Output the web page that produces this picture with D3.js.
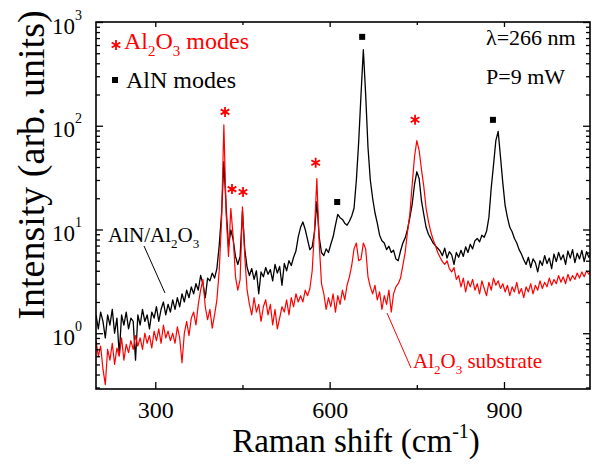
<!DOCTYPE html>
<html><head><meta charset="utf-8">
<script src="https://cdn.jsdelivr.net/npm/d3@7"></script>
<style>
body{margin:0;background:#fff}
svg{display:block}
</style>
</head><body>
<svg id="chart" width="592" height="464"></svg>
<script>
// Raman shift grid (cm^-1): 198 ... 1050, step 4
const shiftStart = 198, shiftStep = 4, shiftEnd = 1050;
const ramanShift = d3.range(shiftStart, shiftEnd + 1, shiftStep);

// AlN/Al2O3 spectrum (black)
const alnOnSapphire = [
  1.5,1.1,1.6,1.3,0.9,1.5,1.2,1.7,1.0,1.4,
  0.62,1.5,1.2,1.6,1.1,1.4,1.3,0.55,1.5,1.2,
  1.7,1.3,1.5,1.1,1.6,1.4,1.8,1.3,1.7,2.0,
  1.5,1.9,1.6,
  2.1,1.7,2.2,1.8,2.4,2.0,2.6,2.2,2.8,2.4,
  3.0,2.6,3.6,3.0,2.2,3.4,3.2,3.8,3.4,4.2,
  7.0,14,45,16,6.8,9.9,8.0,5.5,4.6,5.5,15,6.4,4.3,
  3.6,4.2,3.3,4.0,2.4,3.9,3.5,4.3,3.7,4.1,
  3.2,4.6,3.8,4.4,2.9,4.7,4.0,5.0,4.5,5.4,
  6.2,
  8.5,10.5,11.8,10,8.0,6.4,6.8,9.5,18.5,8.5,
  6.0,5.6,6.5,6.0,7.2,8.5,
  11,14,13,12.5,11.5,11,12,13.5,16,30,
  70,200,540,200,62,30,20,14.5,11.5,8.8,
  7.8,7.4,6.4,6.9,6.0,6.3,5.2,5.0,6.2,7.4,
  8.3,10,13,17.5,27,36,31,19,14,10.5,
  9,8.2,7.4,7.0,6.6,
  6.2,5.6,6.6,5.3,6.1,5.7,4.6,6.0,5.4,6.3,5.5,6.8,6.0,7.2,6.5,7.8,
  8.2,7.6,8.8,8.4,9.6,13,25,42,72,88,
  50,28,17,13,10.5,9.5,8.2,7.4,6.4,5.8,
  5.1,
  4.6,5.4,4.3,5.2,4.8,3.9,5.0,4.5,5.6,4.7,
  5.3,4.2,5.8,4.9,6.0,5.1,5.7,4.6,6.2,5.3,
  6.4,4.8,5.9,5.2,6.3,4.9,6.1,5.4,6.0
];

// Al2O3 substrate spectrum (red)
const sapphire = [
  0.85,0.6,0.75,0.45,0.32,0.7,0.55,0.8,0.5,0.72,
  0.6,0.9,0.55,0.78,0.65,0.85,0.7,0.95,0.75,0.9,
  0.7,1.0,0.8,0.95,0.72,1.05,0.85,1.1,0.8,1.2,
  0.9,1.05,0.85,
  1.0,0.8,1.15,0.9,0.52,1.0,1.3,0.95,1.4,1.6,
  1.2,1.9,2.6,3.3,1.8,1.35,1.7,1.12,1.5,2.1,
  4.0,12,102,14,5.5,16,8.5,3.5,2.6,3.3,16.5,5.5,2.6,
  1.9,1.5,2.2,1.6,1.9,1.3,1.8,2.1,1.5,1.9,
  1.2,1.7,1.1,1.4,1.8,1.6,2.1,1.5,2.2,1.8,
  2.4,
  2.0,2.3,2.0,2.6,2.3,2.7,4.0,10,31,7.5,
  3.0,2.4,1.7,2.2,1.8,2.4,
  1.6,2.3,1.9,2.6,2.1,2.9,3.5,4.5,6.5,7.4,
  5.0,5.2,7.4,6.5,3.5,2.8,2.4,2.9,2.1,2.5,
  1.7,2.3,1.9,2.6,1.6,2.4,2.8,3.0,3.4,4.5,
  6.0,9.5,14,27,50,72,58,38,26,16,
  12,9.5,8.0,7.0,6.0,
  5.4,4.9,4.6,5.0,4.2,3.9,4.3,3.3,3.6,2.8,3.4,2.5,3.2,2.8,3.3,2.6,
  3.0,2.4,3.2,2.7,2.3,3.1,2.6,3.4,2.9,3.2,2.7,3.0,2.5,2.9,2.3,2.8,2.5,3.1,2.4,2.7,2.2,
  2.8,2.5,3.0,2.4,2.9,2.6,3.2,2.7,3.1,2.8,3.4,2.9,3.3,3.0,3.6,3.1,3.5,3.0,3.7,3.2,
  3.6,3.3,3.8,3.4,3.9,3.5,4.0,3.7,4.1
];

// mode markers: [shift, intensity]
const sapphireModeShift = [420, 432, 451, 576, 747];
const sapphireModeLevel = [136, 24.5, 23, 44, 114];
const alnModeShift = [613, 656, 881];
const alnModeLevel = [18.4, 719, 114];

const xMajorTicks = [300, 600, 900];
const xMinorTicks = [450, 750];
const yMajorTicks = [1, 10, 100, 1000];
const yExponents = ["0", "1", "2", "3"];

const FONT = '"Liberation Serif"';
const svg = d3.select("#chart");
const L = 96, R = 590, T = 22, B = 389;
const x = d3.scaleLinear().domain([198, 1048]).range([L, R]);
const y = d3.scaleLog().domain([0.29, 1000]).range([B, T]);

const yMinorTicks = [];
[0.1, 1, 10, 100].forEach(d => { for (let k = 2; k <= 9; k++) { const v = d * k; if (v >= 0.29 && v <= 1000) yMinorTicks.push(v); } });

svg.append("defs").append("clipPath").attr("id", "clip")
  .append("rect").attr("x", L).attr("y", T).attr("width", R - L).attr("height", B - T);

const line = d3.line().x((d, i) => x(ramanShift[i])).y(d => y(d));
const plot = svg.append("g").attr("clip-path", "url(#clip)");
plot.append("path").datum(alnOnSapphire).attr("d", line)
  .attr("fill", "none").attr("stroke", "#000").attr("stroke-width", 1.3).attr("stroke-linejoin", "round");
plot.append("path").datum(sapphire).attr("d", line)
  .attr("fill", "none").attr("stroke", "#ff0000").attr("stroke-width", 1.2).attr("stroke-linejoin", "round");

// axes
function styleAxis(g) {
  g.attr("font-family", null);
  g.select(".domain").remove();
  g.selectAll("line").attr("stroke", "#000").attr("stroke-width", 1.3);
  g.selectAll("text").style("font-family", FONT);
}
svg.append("g").attr("transform", `translate(0,${B})`)
  .call(d3.axisBottom(x).tickValues(xMajorTicks).tickSizeInner(-7).tickSizeOuter(0).tickPadding(12).tickFormat(d3.format("d")))
  .call(styleAxis)
  .call(g => g.selectAll("text").attr("font-size", 24).attr("fill", "#000"));
svg.append("g").attr("transform", `translate(0,${B})`)
  .call(d3.axisBottom(x).tickValues(xMinorTicks).tickSizeInner(-4).tickSizeOuter(0).tickFormat(""))
  .call(styleAxis);
svg.append("g").attr("transform", `translate(0,${T})`)
  .call(d3.axisTop(x).tickValues(xMajorTicks).tickSizeInner(-5).tickSizeOuter(0).tickFormat(""))
  .call(styleAxis);
svg.append("g").attr("transform", `translate(0,${T})`)
  .call(d3.axisTop(x).tickValues(xMinorTicks).tickSizeInner(-3).tickSizeOuter(0).tickFormat(""))
  .call(styleAxis);

const yAx = svg.append("g").attr("transform", `translate(${L},0)`)
  .call(d3.axisLeft(y).tickValues(yMajorTicks).tickSizeInner(-7).tickSizeOuter(0).tickPadding(14).tickFormat(""))
  .call(styleAxis);
yAx.selectAll(".tick text").each(function (d, i) {
  const t = d3.select(this).attr("dy", null).attr("y", 11).attr("font-size", 23).attr("fill", "#000");
  t.append("tspan").text("10");
  t.append("tspan").attr("dy", -14).attr("font-size", 14).text(yExponents[i]);
});
svg.append("g").attr("transform", `translate(${L},0)`)
  .call(d3.axisLeft(y).tickValues(yMinorTicks).tickSizeInner(-4).tickSizeOuter(0).tickFormat(""))
  .call(styleAxis);
svg.append("g").attr("transform", `translate(${R},0)`)
  .call(d3.axisRight(y).tickValues(yMajorTicks).tickSizeInner(-7).tickSizeOuter(0).tickFormat(""))
  .call(styleAxis);
svg.append("g").attr("transform", `translate(${R},0)`)
  .call(d3.axisRight(y).tickValues(yMinorTicks).tickSizeInner(-4).tickSizeOuter(0).tickFormat(""))
  .call(styleAxis);

svg.append("rect").attr("x", L).attr("y", T).attr("width", R - L).attr("height", B - T)
  .attr("fill", "none").attr("stroke", "#000").attr("stroke-width", 1.6);

function txt(xx, yy, size, color) {
  return svg.append("text").attr("x", xx).attr("y", yy).attr("font-size", size).attr("fill", color).style("font-family", FONT);
}

// axis titles
const xt = txt(356, 452, 33, "#000").attr("text-anchor", "middle");
xt.append("tspan").text("Raman shift (cm");
xt.append("tspan").attr("dy", -14).attr("font-size", 20).text("-1");
xt.append("tspan").attr("dy", 14).text(")");
svg.append("text").attr("transform", "translate(44,165) rotate(-90)").attr("text-anchor", "middle")
  .style("font-family", FONT).attr("font-size", 38).attr("fill", "#000").text("Intensity (arb. units)");

// mode markers
const ast = d3.symbol().type(d3.symbolAsterisk).size(70);
svg.selectAll(".ast").data(sapphireModeShift).join("path").attr("class", "ast")
  .attr("transform", (d, i) => `translate(${x(d)},${y(sapphireModeLevel[i])})`)
  .attr("d", ast).attr("fill", "none").attr("stroke", "#ff0000").attr("stroke-width", 1.8);
svg.selectAll(".sq").data(alnModeShift).join("rect").attr("class", "sq")
  .attr("x", d => x(d) - 3).attr("y", (d, i) => y(alnModeLevel[i]) - 3).attr("width", 6).attr("height", 6).attr("fill", "#000");

// legend
svg.append("path").attr("transform", "translate(116,45)").attr("d", ast).attr("fill", "none").attr("stroke", "#ff0000").attr("stroke-width", 1.8);
function subText(xx, yy, size, color, parts) {
  const t = txt(xx, yy, size, color);
  let shift = 0;
  parts.forEach(p => {
    const sub = p[1];
    const target = sub ? Math.round(size * 0.28) : 0;
    const ts = t.append("tspan").attr("dy", target - shift).text(p[0]);
    if (sub) ts.attr("font-size", Math.round(size * 0.62));
    shift = target;
  });
  return t;
}
subText(124, 49, 24, "#ff0000", [["Al", 0], ["2", 1], ["O", 0], ["3", 1], [" modes", 0]]);
svg.append("rect").attr("x", 112).attr("y", 77).attr("width", 6).attr("height", 6).attr("fill", "#000");
txt(126, 88, 24, "#000").text("AlN modes");

txt(486, 45, 22, "#000").text("λ=266 nm");
txt(486, 84, 22, "#000").text("P=9 mW");

// curve labels
subText(108, 242, 21, "#000", [["AlN/Al", 0], ["2", 1], ["O", 0], ["3", 1]]);
svg.append("line").attr("x1", 144).attr("y1", 246).attr("x2", 165).attr("y2", 293).attr("stroke", "#000").attr("stroke-width", 1);
subText(413, 368, 21, "#ff0000", [["Al", 0], ["2", 1], ["O", 0], ["3", 1], [" substrate", 0]]);
svg.append("line").attr("x1", 387).attr("y1", 313).attr("x2", 411).attr("y2", 368).attr("stroke", "#ff0000").attr("stroke-width", 1);
</script>
</body></html>
